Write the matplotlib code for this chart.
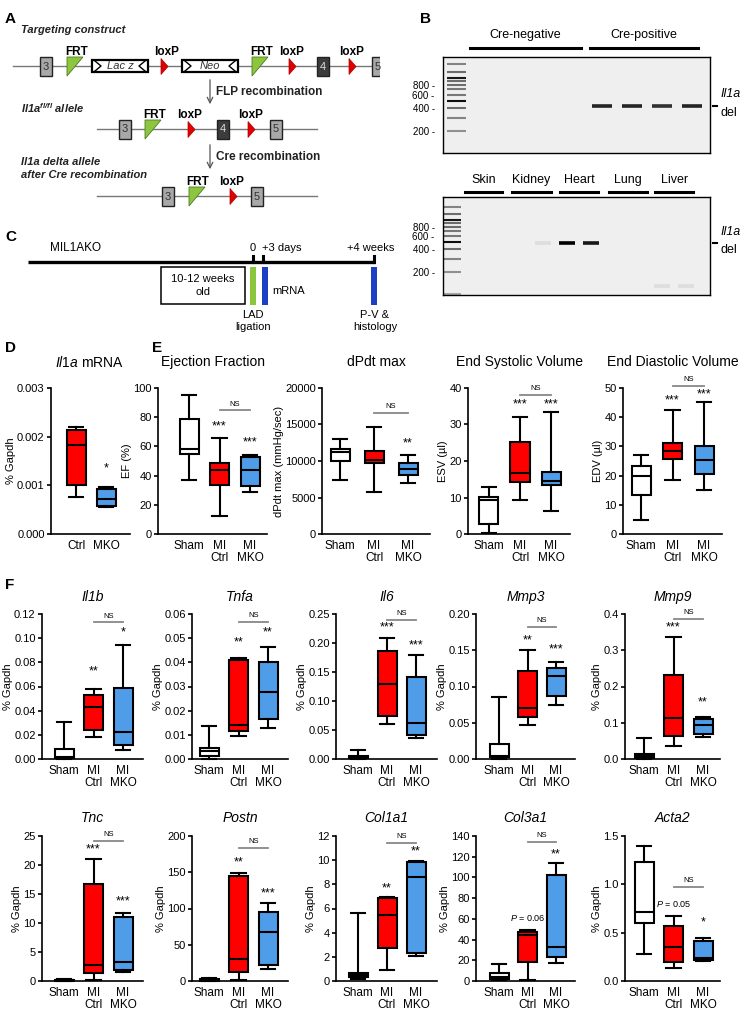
import matplotlib
matplotlib.use('Agg')
import matplotlib.pyplot as plt
from matplotlib.patches import Rectangle, Polygon
from matplotlib.ticker import NullLocator

plt.rcParams['font.family'] = ['Liberation Sans', 'DejaVu Sans']
plt.rcParams['mathtext.fontset'] = 'custom'
plt.rcParams['mathtext.rm'] = 'Liberation Sans'
plt.rcParams['mathtext.it'] = 'Liberation Sans:italic'
plt.rcParams['mathtext.bf'] = 'Liberation Sans:bold'
plt.rcParams['mathtext.bfit'] = 'Liberation Sans:italic:bold'

# ---------------- data ----------------
groups_mi = ['Sham', 'MI\nCtrl', 'MI\nMKO']
groups_ko = ['Ctrl', 'MKO']
colors_mi = ['white', '#ff0000', '#4f9de9']
colors_ko = ['#ff0000', '#4f9de9']

# each group: whisker low, q1, median, q3, whisker high
il1a_mrna = [[0.00077, 0.0010, 0.00182, 0.00213, 0.0022],
             [0.00055, 0.00058, 0.00072, 0.00092, 0.00097]]
il1a_marks = [('*', 1, 0.00135)]

ef = [[37, 55, 58.4, 78.8, 95.4], [12.1, 33.6, 43.8, 48.6, 65.8], [28.5, 32.6, 44, 52.7, 54.3]]
ef_marks = [('***', 1, 74), ('***', 2, 63)]
ef_ns = 84.7
dpdt = [[7400, 10000, 11300, 11700, 13000], [5750, 9730, 10140, 11370, 14650], [6990, 8080, 8900, 9730, 10800]]
dpdt_marks = [('**', 2, 12470)]
dpdt_ns = 16580
esv = [[0.3, 2.7, 9.2, 10.1, 12.9], [9.2, 14.2, 16.7, 25.3, 32], [6.2, 13.3, 14.6, 17.1, 33.4]]
esv_marks = [('***', 1, 35.4), ('***', 2, 35.4)]
esv_ns = 38.2
edv = [[4.7, 13.2, 19.7, 23.2, 26.9], [18.4, 25.8, 28.5, 31.2, 42.6], [15, 20.5, 25.2, 30, 45.1]]
edv_marks = [('***', 1, 45.7), ('***', 2, 47.7)]
edv_ns = 50.8

il1b = [[0, 0.0006, 0.0014, 0.0083, 0.0303], [0.018, 0.0237, 0.043, 0.053, 0.058], [0.0072, 0.0116, 0.022, 0.059, 0.094]]
il1b_marks = [('**', 1, 0.0726), ('*', 2, 0.105)]
tnfa = [[0, 0.0011, 0.0032, 0.0046, 0.0138], [0.0097, 0.0114, 0.0142, 0.0408, 0.042], [0.0127, 0.0167, 0.0277, 0.040, 0.0462]]
tnfa_marks = [('**', 1, 0.0483), ('**', 2, 0.0524)]
il6 = [[0, 0.001, 0.002, 0.0046, 0.016], [0.061, 0.0736, 0.129, 0.1856, 0.2086], [0.036, 0.041, 0.062, 0.141, 0.179]]
il6_marks = [('***', 1, 0.226), ('***', 2, 0.196)]
mmp3 = [[0, 0.003, 0.0045, 0.021, 0.085], [0.047, 0.058, 0.071, 0.122, 0.15], [0.074, 0.087, 0.115, 0.126, 0.134]]
mmp3_marks = [('**', 1, 0.163), ('***', 2, 0.151)]
mmp9 = [[0, 0.003, 0.0074, 0.0147, 0.058], [0.035, 0.064, 0.112, 0.233, 0.337], [0.06, 0.069, 0.094, 0.109, 0.116]]
mmp9_marks = [('***', 1, 0.363), ('**', 2, 0.156)]

tnc = [[0, 0.05, 0.1, 0.2, 0.4], [0.17, 1.3, 2.76, 16.7, 21], [1.5, 1.9, 3.33, 11.1, 11.7]]
tnc_marks = [('***', 1, 22.6), ('***', 2, 13.8)]
postn = [[0, 0.6, 1.4, 2.3, 4.6], [1.4, 12.9, 30, 145, 149], [17, 22, 68, 95.6, 107]]
postn_marks = [('**', 1, 163), ('***', 2, 121)]
col1a1 = [[0.19, 0.3, 0.5, 0.69, 5.6], [0.9, 2.73, 5.46, 6.87, 6.95], [2.07, 2.3, 8.6, 9.88, 9.96]]
col1a1_marks = [('**', 1, 7.7), ('**', 2, 10.7)]
col3a1 = [[0.6, 2.3, 4.2, 7.4, 16.1], [1, 18.7, 44.4, 47, 49.2], [17.7, 22.8, 33, 102, 114]]
col3a1_marks = [('$P$ = 0.06', 1, 60.5), ('**', 2, 122.6)]
acta2 = [[0.276, 0.597, 0.717, 1.234, 1.397], [0.131, 0.2, 0.355, 0.569, 0.672], [0.207, 0.217, 0.241, 0.414, 0.448]]
acta2_marks = [('$P$ = 0.05', 1, 0.797), ('*', 2, 0.603)]

# gels (bp)
ladder_bp = [100, 200, 300, 400, 500, 600, 700, 800, 900, 1000, 1200, 1500]
ladder_int = [0.3, 0.4, 0.45, 0.55, 0.95, 0.5, 0.5, 0.55, 0.55, 0.9, 0.55, 0.45]
gel_ticks = [200, 400, 600, 800]
cre_groups = ['Cre-negative', 'Cre-positive']
cre_bands = [(5, 430, 0.85), (6, 430, 0.85), (7, 430, 0.8), (8, 430, 0.85)]
tissues = ['Skin', 'Kidney', 'Heart', 'Lung', 'Liver']
tissue_bands = [(4, 490, 0.07), (5, 490, 1.0), (6, 490, 0.9), (9, 130, 0.07), (10, 130, 0.07)]

# ---------------- figure ----------------
W, H = 748, 1011
fig = plt.figure(figsize=(W / 100, H / 100), dpi=100)


def px_axes(x0, y0, x1, y1):
    return fig.add_axes([x0 / W, 1 - y1 / H, (x1 - x0) / W, (y1 - y0) / H])


def ftext(x, y, s, **kw):
    kw.setdefault('ha', 'left')
    kw.setdefault('va', 'center')
    fig.text(x / W, 1 - y / H, s, **kw)


# panel letters
for lab, x, y in [('A', 5, 19), ('B', 420, 19), ('C', 5, 237), ('D', 5, 348), ('E', 152, 348), ('F', 5, 585)]:
    ftext(x, y, lab, fontsize=11, fontweight='bold')

# ---------- schematic (A and C) ----------
sch = px_axes(0, 0, 380, 345)
sch.set_xlim(0, 380)
sch.set_ylim(345, 0)
sch.axis('off')


def exon(x, y, label, dark=False):
    sch.add_patch(Rectangle((x, y - 9.5), 12, 19, fc='#3c3c3c' if dark else '#a8a8a8', ec='#222222', lw=1, zorder=3))
    sch.text(x + 6, y + 0.5, label, ha='center', va='center', fontsize=8,
             color='#dddddd' if dark else '#333333', zorder=4)


def frt(x, y, lx):
    sch.add_patch(Polygon([(x, y - 9), (x + 16, y - 9), (x, y + 10)], closed=True,
                          fc='#8cc63e', ec='#4d7a22', lw=0.6, zorder=3))
    sch.text(lx, y - 14, 'FRT', ha='center', va='center', fontsize=8.5, fontweight='bold')


def loxp(x, y, lx):
    sch.add_patch(Polygon([(x, y - 7.5), (x + 7, y + 0.5), (x, y + 8.5)], closed=True,
                          fc='#e00000', ec='#b00000', lw=0.5, zorder=3))
    sch.text(lx, y - 14, 'loxP', ha='center', va='center', fontsize=8.5, fontweight='bold')


def cassette(x0, x1, y, name):
    sch.add_patch(Rectangle((x0, y - 6), x1 - x0, 12, fc='white', ec='black', lw=1.6, zorder=3))
    sch.plot([x0 + 3, x0 + 9, x0 + 3], [y - 5, y, y + 5], color='black', lw=1, zorder=4)
    sch.plot([x1 - 3, x1 - 9, x1 - 3], [y - 5, y, y + 5], color='black', lw=1, zorder=4)
    sch.text((x0 + x1) / 2, y, name, ha='center', va='center', fontsize=8, fontstyle='italic', color='#333333', zorder=4)


# row 1: targeting construct
y1 = 66
sch.plot([13, 380], [y1, y1], color='#777777', lw=1)
exon(40, y1, '3')
frt(67, y1, 77)
cassette(92, 148, y1, 'Lac z')
loxp(161, y1, 167)
cassette(182, 238, y1, 'Neo')
frt(252, y1, 262)
loxp(289, y1, 292)
exon(317, y1, '4', dark=True)
loxp(349, y1, 352)
exon(372, y1, '5')
# row 2
y2 = 129
sch.plot([97, 317], [y2, y2], color='#777777', lw=1)
exon(119, y2, '3')
frt(145, y2, 155)
loxp(188, y2, 190)
exon(217, y2, '4', dark=True)
loxp(248, y2, 251)
exon(270, y2, '5')
# row 3
y3 = 196
sch.plot([97, 317], [y3, y3], color='#777777', lw=1)
exon(162, y3, '3')
frt(189, y3, 198)
loxp(230, y3, 232)
exon(251, y3, '5')

for ya, yb, lab in [(77, 107, 'FLP recombination'), (142, 172, 'Cre recombination')]:
    sch.annotate('', xy=(210, yb), xytext=(210, ya),
                 arrowprops=dict(arrowstyle='->', color='#555555', lw=0.9))
    sch.text(216, (ya + yb) / 2, lab, ha='left', va='center', fontsize=8.5, fontweight='bold', color='#222222')

sch.text(21, 30, 'Targeting construct', fontsize=8, fontweight='bold', fontstyle='italic', va='center', color='#222222')
sch.text(21, 108, r'$\mathbfit{Il1a}^{\mathbfit{fl/fl}}$ allele', fontsize=8, fontweight='bold',
         fontstyle='italic', va='center', color='#222222')
sch.text(21, 162, 'Il1a delta allele', fontsize=8, fontweight='bold', fontstyle='italic', va='center', color='#222222')
sch.text(21, 175, 'after Cre recombination', fontsize=8, fontweight='bold', fontstyle='italic', va='center', color='#222222')

# panel C timeline
yt = 262
sch.plot([28, 375], [yt, yt], color='black', lw=2.4, solid_capstyle='butt')
for xt in [253, 263, 374]:
    sch.plot([xt, xt], [yt - 6, yt], color='black', lw=2.2)
sch.text(50, 248, 'MIL1AKO', fontsize=8.5, va='center')
sch.text(253, 248, '0', fontsize=8, ha='center', va='center')
sch.text(282, 248, '+3 days', fontsize=8, ha='center', va='center')
sch.text(371, 248, '+4 weeks', fontsize=8, ha='center', va='center')
sch.add_patch(Rectangle((161, 267), 84, 37, fc='white', ec='black', lw=1.1))
sch.text(203, 279, '10-12 weeks', fontsize=8, ha='center', va='center')
sch.text(203, 292, 'old', fontsize=8, ha='center', va='center')
sch.add_patch(Rectangle((250, 267), 6, 38, fc='#8cc63e', ec='none'))
sch.add_patch(Rectangle((262, 267), 6, 38, fc='#1d3fc4', ec='none'))
sch.add_patch(Rectangle((371, 267), 6, 38, fc='#1d3fc4', ec='none'))
sch.text(272, 291, 'mRNA', fontsize=8, va='center')
sch.text(253, 321, 'LAD\nligation', fontsize=8, ha='center', va='center', linespacing=1.15)
sch.text(375, 321, 'P-V &\nhistology', fontsize=8, ha='center', va='center', linespacing=1.15)


# ---------- gels (B) ----------
def draw_gel(box, lane_px, bands, ladder_lane, half, ylim, groups, group_lanes, label_y):
    x0, y0, x1, y1 = box
    spacing, first_px = lane_px
    ax = px_axes(x0, y0, x1, y1)
    ax.set_facecolor('#efefef')
    ax.set_yscale('log')
    ax.set_ylim(*ylim)
    ax.set_xlim((x0 - first_px) / spacing + 1, (x1 - first_px) / spacing + 1)
    for bp, a in zip(ladder_bp, ladder_int):
        ax.hlines(bp, ladder_lane - 0.32 * 30 / spacing, ladder_lane + 0.32 * 30 / spacing,
                  color='black', alpha=a, lw=1.5)
    for lane, bp, a in bands:
        ax.hlines(bp, lane - half, lane + half, color='black', alpha=a, lw=2.6)
    ax.yaxis.set_minor_locator(NullLocator())
    ax.set_yticks(gel_ticks)
    ax.set_yticklabels([f'{t} -' for t in gel_ticks], fontsize=7)
    ax.tick_params(axis='y', length=0, pad=6)
    ax.set_xticks([])
    for s in ax.spines.values():
        s.set_linewidth(1)
    tr = ax.get_xaxis_transform()
    for g, (la, lb) in zip(groups, group_lanes):
        ax.plot([la, lb], [label_y[0], label_y[0]], color='black', lw=2.2, transform=tr, clip_on=False)
        ax.text((la + lb) / 2, label_y[1], g, ha='center', va='center', fontsize=9, transform=tr)
    return ax


gel1 = draw_gel((443, 57, 710, 153), (30, 482), cre_bands, 0.15, 0.34, (103, 1860),
                cre_groups, [(0.6, 4.3), (4.6, 8.2)], (1.094, 1.23))
gel2 = draw_gel((443, 197, 710, 295), (23.8, 472), tissue_bands, 0.15, 0.34, (97, 2045),
                tissues, [(0.7, 2.25), (2.7, 4.3), (4.7, 6.3), (6.75, 8.35), (8.7, 10.3)], (1.05, 1.17))
for g, bp in [(gel1, 430), (gel2, 490)]:
    tr = g.get_yaxis_transform()
    g.plot([1.01, 1.025], [bp, bp], color='black', lw=1.5, transform=tr, clip_on=False)
    g.annotate('Il1a', xy=(1.04, bp), xycoords=tr, xytext=(0, 8), textcoords='offset points',
               ha='left', va='center', fontsize=9, fontstyle='italic', annotation_clip=False)
    g.annotate('del', xy=(1.04, bp), xycoords=tr, xytext=(0, -5), textcoords='offset points',
               ha='left', va='center', fontsize=9, annotation_clip=False)


# ---------- box plot panels ----------
def box_panel(lay, vals, labels, colors, ymax, ystep, dec, ylabel, title, marks, ns_y=None,
              italic=True, title_y=None):
    spine, first, step, end, top, bottom = lay
    ax = px_axes(spine, top, end, bottom)
    n = len(vals)
    pos = list(range(n))
    w = 19 / step
    stats = [dict(whislo=v[0], q1=v[1], med=v[2], q3=v[3], whishi=v[4]) for v in vals]
    lw = 1.5
    bp = ax.bxp(stats, positions=pos, widths=w, capwidths=w * 0.75, showfliers=False, patch_artist=True,
                boxprops=dict(lw=lw, edgecolor='black'), medianprops=dict(color='black', lw=lw),
                whiskerprops=dict(lw=lw, color='black'), capprops=dict(lw=lw, color='black'),
                manage_ticks=False)
    for b, c in zip(bp['boxes'], colors):
        b.set_facecolor(c)
    for k in bp:
        for a in bp[k]:
            a.set_clip_on(False)
    ax.set_xlim(-(first - spine) / step, (n - 1) + (end - first - (n - 1) * step) / step)
    ax.set_ylim(0, ymax)
    nt = int(round(ymax / ystep))
    ticks = [i * ystep for i in range(nt + 1)]
    ax.set_yticks(ticks)
    ax.set_yticklabels([f'{t:.{dec}f}' for t in ticks])
    ax.set_xticks(pos)
    ax.set_xticklabels(labels, linespacing=1.05)
    ax.tick_params(axis='x', length=0, pad=4, labelsize=8.5)
    ax.tick_params(axis='y', direction='out', length=3, width=1.2, pad=1.5, labelsize=8)
    for s in ['top', 'right']:
        ax.spines[s].set_visible(False)
    for s in ['left', 'bottom']:
        ax.spines[s].set_linewidth(1.2)
    ax.set_ylabel(ylabel, fontsize=8, labelpad=1)
    for txt, i, y in marks:
        fs = 6.5 if 'P' in txt else 9
        ax.text(i, y, txt, ha='center', va='center', fontsize=fs, clip_on=False)
    if ns_y is not None:
        ax.plot([1, 2], [ns_y, ns_y], color='#888888', lw=1.3, clip_on=False)
        ax.annotate('NS', xy=(1.5, ns_y), xytext=(0, 2), textcoords='offset points',
                    ha='center', va='bottom', fontsize=5.5, annotation_clip=False)
    tx = (spine + end) / 2
    ftext(tx, title_y, title, ha='center', fontsize=10, fontstyle='italic' if italic else 'normal')
    return ax


row_de = (388, 534)
row_f1 = (614, 759)
row_f2 = (836, 981)
ty_de = 362

box_panel((51, 76, 30, 130) + row_de, il1a_mrna, groups_ko, colors_ko, 0.003, 0.001, 3, '% Gapdh',
          '', il1a_marks, title_y=ty_de)
ftext(90, ty_de, r'$Il1a$ mRNA', ha='center', fontsize=10)
box_panel((158, 189, 30.5, 267) + row_de, ef, groups_mi, colors_mi, 100, 20, 0, 'EF (%)',
          'Ejection Fraction', ef_marks, ef_ns, italic=False, title_y=ty_de)
box_panel((322, 340, 34, 430) + row_de, dpdt, groups_mi, colors_mi, 20000, 5000, 0, 'dPdt max (mmHg/sec)',
          'dPdt max', dpdt_marks, dpdt_ns, italic=False, title_y=ty_de)
box_panel((468, 489, 31, 570) + row_de, esv, groups_mi, colors_mi, 40, 10, 0, 'ESV (\u00b5l)',
          'End Systolic Volume', esv_marks, esv_ns, italic=False, title_y=ty_de)
box_panel((623, 641, 31.5, 722) + row_de, edv, groups_mi, colors_mi, 50, 10, 0, 'EDV (\u00b5l)',
          'End Diastolic Volume', edv_marks, edv_ns, italic=False, title_y=ty_de)

f_cols = [(42, 64, 29.5, 143), (192, 209, 29.5, 288), (336, 358, 29, 437), (476, 499, 28.5, 575), (625, 644, 29.5, 720)]
row1 = [(il1b, 0.12, 0.02, 2, 'Il1b', il1b_marks, 0.113),
        (tnfa, 0.06, 0.01, 2, 'Tnfa', tnfa_marks, 0.0566),
        (il6, 0.25, 0.05, 2, 'Il6', il6_marks, 0.240),
        (mmp3, 0.20, 0.05, 2, 'Mmp3', mmp3_marks, 0.182),
        (mmp9, 0.4, 0.1, 1, 'Mmp9', mmp9_marks, 0.386)]
row2 = [(tnc, 25, 5, 0, 'Tnc', tnc_marks, 24.2),
        (postn, 200, 50, 0, 'Postn', postn_marks, 184),
        (col1a1, 12, 2, 0, 'Col1a1', col1a1_marks, 11.4),
        (col3a1, 140, 20, 0, 'Col3a1', col3a1_marks, 134),
        (acta2, 1.5, 0.5, 1, 'Acta2', acta2_marks, 0.976)]
for rowdef, rowpx, ty in [(row1, row_f1, 597), (row2, row_f2, 818)]:
    for col, (vals, ymax, ystep, dec, name, marks, ns) in zip(f_cols, rowdef):
        box_panel(col + rowpx, vals, groups_mi, colors_mi, ymax, ystep, dec, '% Gapdh',
                  name, marks, ns, title_y=ty)

fig.savefig('out.png', dpi=100)
